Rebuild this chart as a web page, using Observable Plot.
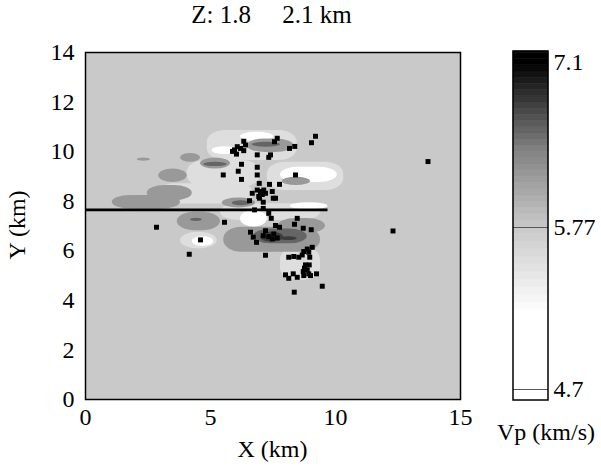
<!DOCTYPE html>
<html><head><meta charset="utf-8">
<script src="https://cdn.jsdelivr.net/npm/d3@7"></script>
<script src="https://cdn.jsdelivr.net/npm/@observablehq/plot@0.6"></script>
<style>
body{margin:0;background:#fff;font-family:"Liberation Serif",serif;color:#000;}
#wrap{position:relative;width:601px;height:468px;overflow:hidden;}
#wrap svg{position:absolute;left:0;top:0;}
.lbl{position:absolute;font-size:24px;white-space:pre;line-height:1;}
</style></head><body>
<div id="wrap">
  <div class="lbl" id="title" style="left:84px;top:2px;width:375px;text-align:center;font-size:25px;">Z: 1.8     2.1 km</div>
  <div class="lbl" style="left:85px;top:437px;width:375px;text-align:center;">X (km)</div>
  <div class="lbl" style="left:-33px;top:213px;width:100px;text-align:center;transform:rotate(-90deg);">Y (km)</div>
  <div class="lbl" style="left:486px;top:420px;width:120px;text-align:center;">Vp (km/s)</div>
</div>
<script>
// ---- data ----
const xTicks = [0, 5, 10, 15];
const yTicks = [0, 2, 4, 6, 8, 10, 12, 14];
const referenceVp = 5.77;
const barTicks = [4.7, 5.77, 7.1];
const barTickLabels = ["4.7", "5.77", "7.1"];
const barLines = [4.7, 5.77];
// velocity anomalies: [x1, x2, y1, y2, Vp] (km, km/s)
const lightAnoms = [
  [4.87, 8.47, 9.64, 10.85, 5.55],
  [4.07, 7.0, 8.56, 9.64, 5.55],
  [7.27, 10.33, 8.43, 9.57, 5.55],
  [2.87, 6.73, 7.89, 8.7, 5.55],
  [5.4, 9.4, 7.22, 7.9, 5.55],
  [3.8, 5.27, 6.07, 6.75, 5.55],
  [7.8, 9.4, 4.8, 6.14, 5.55]
];
const whiteAnoms = [
  [6.2, 7.53, 10.42, 10.78, 4.9],
  [5.07, 6.07, 9.88, 10.2, 4.9],
  [7.8, 10.07, 8.76, 9.37, 4.9],
  [6.2, 7.27, 6.95, 7.62, 4.9],
  [8.2, 9.7, 7.66, 7.94, 4.9],
  [4.27, 5.13, 6.17, 6.57, 4.9]
];
const grayAnoms = [
  [6.47, 8.33, 9.97, 10.51, 6.18],
  [2.07, 2.6, 9.61, 9.74, 6.18],
  [3.8, 4.6, 9.57, 9.93, 6.18],
  [4.6, 5.8, 9.3, 9.74, 6.18],
  [2.93, 4.07, 8.76, 9.3, 6.18],
  [7.87, 9.0, 8.63, 8.97, 6.18],
  [1.07, 3.8, 7.69, 8.23, 6.18],
  [2.47, 4.27, 8.02, 8.63, 6.18],
  [5.47, 6.8, 7.73, 8.13, 6.18],
  [3.67, 5.4, 6.81, 7.55, 6.18],
  [5.53, 9.4, 5.94, 6.95, 6.18],
  [7.7, 9.6, 6.7, 7.3, 6.18]
];
const darkAnoms = [
  [6.67, 7.8, 10.18, 10.38, 6.55],
  [4.73, 5.67, 9.4, 9.57, 6.55],
  [5.87, 6.6, 7.82, 8.02, 6.55],
  [4.2, 4.67, 7.18, 7.31, 6.55],
  [6.73, 8.87, 6.28, 6.88, 6.55],
  [7.0, 7.93, 6.34, 6.75, 6.78],
  [7.8, 8.47, 6.41, 6.57, 6.78]
];
// cross-section line (km)
const sectionY = 7.65;
const sectionX = [0, 9.7];
// earthquake epicentres (km)
const quakeX = [9.2,9.04,7.67,7.56,8.37,8.16,6.33,6.4,6.07,6.2,5.96,5.88,6.04,6.33,
  6.87,7.4,7.33,6.24,6.87,6.11,5.51,6.87,8.4,6.24,6.95,7.36,7.76,7.47,
  6.87,7.0,7.13,7.2,7.07,6.93,6.67,7.51,7.6,7.11,6.96,6.56,7.11,6.76,7.33,7.43,8.47,8.36,7.6,7.76,5.56,2.84,8.71,9.03,7.2,6.6,6.71,
  7.53,7.33,7.47,7.67,7.11,6.84,4.6,4.15,7.2,
  9.07,8.87,8.73,8.93,8.67,8.53,8.33,8.13,8.97,
  8.8,8.95,8.76,8.87,8.71,8.93,
  8.0,8.13,8.31,8.47,8.73,9.0,9.24,9.47,8.35,13.7,12.3];
const quakeY = [10.62,10.36,10.54,10.4,10.21,10.13,10.42,10.27,10.2,10.13,10.07,10.01,9.9,10.04,
  9.87,9.87,9.77,9.49,9.37,9.21,9.06,9.06,9.06,8.88,8.72,8.68,8.68,8.39,
  8.45,8.39,8.45,8.32,8.27,8.19,8.32,8.12,8.12,7.96,8.12,8.02,7.71,7.65,7.51,7.31,7.31,7.07,7.02,6.95,7.15,6.95,6.91,6.85,6.81,6.75,6.55,
  6.68,6.57,6.48,6.52,6.61,6.34,6.44,5.86,5.82,
  6.14,6.07,5.97,5.94,5.83,5.74,5.77,5.74,5.74,
  5.43,5.43,5.3,5.23,5.16,5.07,
  5.03,4.89,5.07,4.93,5.0,5.0,5.07,4.57,4.33,9.6,6.8];

// ---- tables ----
const toRect = a => ({x1: a[0], x2: a[1], y1: a[2], y2: a[3], vp: a[4]});
const anomalies = [...lightAnoms, ...whiteAnoms, ...grayAnoms, ...darkAnoms].map(toRect);
const quakes = quakeX.map((x, i) => ({x, y: quakeY[i]}));
const xDomain = [xTicks[0], xTicks[xTicks.length - 1]];
const yDomain = [yTicks[0], yTicks[yTicks.length - 1]];

const colorOpts = {
  type: "linear",
  domain: [4.7, 5.2, 5.77, 6.4, 7.1],
  range: ["#ffffff", "#ffffff", "#c9c9c9", "#808080", "#000000"],
  clamp: true
};

const wrap = document.getElementById("wrap");

const main = Plot.plot({
  width: 601, height: 468,
  marginLeft: 85, marginRight: 141, marginTop: 52, marginBottom: 69,
  x: {domain: xDomain},
  y: {domain: yDomain},
  color: colorOpts,
  style: {fontFamily: "'Liberation Serif', serif", fontSize: "24px", background: "transparent"},
  marks: [
    Plot.rect([{vp: referenceVp}], {x1: () => xDomain[0], x2: () => xDomain[1], y1: () => yDomain[0], y2: () => yDomain[1], fill: "vp"}),
    Plot.rect(anomalies, {x1: "x1", x2: "x2", y1: "y1", y2: "y2", fill: "vp", rx: 18, ry: 12}),
    Plot.ruleY([sectionY], {x1: () => sectionX[0], x2: () => sectionX[1], stroke: "#000", strokeWidth: 2.6}),
    Plot.dot(quakes, {x: "x", y: "y", symbol: "square", r: 2.8, fill: "#000", stroke: "none"}),
    Plot.frame({stroke: "#000", strokeWidth: 1.5}),
    Plot.axisX({ticks: xTicks, tickSize: 0, tickPadding: 8, label: null, fontSize: 24}),
    Plot.axisY({ticks: yTicks, tickSize: 0, tickPadding: 11, label: null, fontSize: 24})
  ]
});
wrap.appendChild(main);

// ---- colour bar ----
// Vp stops of the bar and their relative heights along it (piecewise scale)
const barStops = [4.627, 4.7, 5.77, 7.1, 7.19];
const barFrac = d3.scaleLinear().domain(barStops).range([0, 11, 173, 338, 349].map(d => d / 349));
const bandStep = 0.05;
const bands = d3.range(barStops[0], barStops[barStops.length - 1], bandStep)
  .map(v => ({y1: barFrac(v), y2: barFrac(Math.min(v + bandStep, barStops[barStops.length - 1])), vp: v + bandStep / 2}));

const bar = Plot.plot({
  width: 601, height: 468,
  x: {domain: [0, 1], range: [513, 548], axis: null},
  y: {domain: [0, 1], range: [400, 51], axis: null},
  color: colorOpts,
  style: {fontFamily: "'Liberation Serif', serif", fontSize: "24px", background: "transparent"},
  marks: [
    Plot.rect(bands, {x1: () => 0, x2: () => 1, y1: "y1", y2: "y2", fill: "vp", stroke: "vp", strokeWidth: 0.5}),
    Plot.ruleY(barLines.map(barFrac), {x1: () => 0, x2: () => 1, stroke: "#555", strokeWidth: 1}),
    Plot.rect([0], {x1: () => 0, x2: () => 1, y1: () => 0, y2: () => 1, fill: "none", stroke: "#000", strokeWidth: 1.5}),
    Plot.text(barTicks, {x: () => 1, y: d => barFrac(d), text: (d, i) => barTickLabels[i], dx: 5, textAnchor: "start", fontSize: 24, fill: "#000"})
  ]
});
wrap.appendChild(bar);
</script>
</body></html>
